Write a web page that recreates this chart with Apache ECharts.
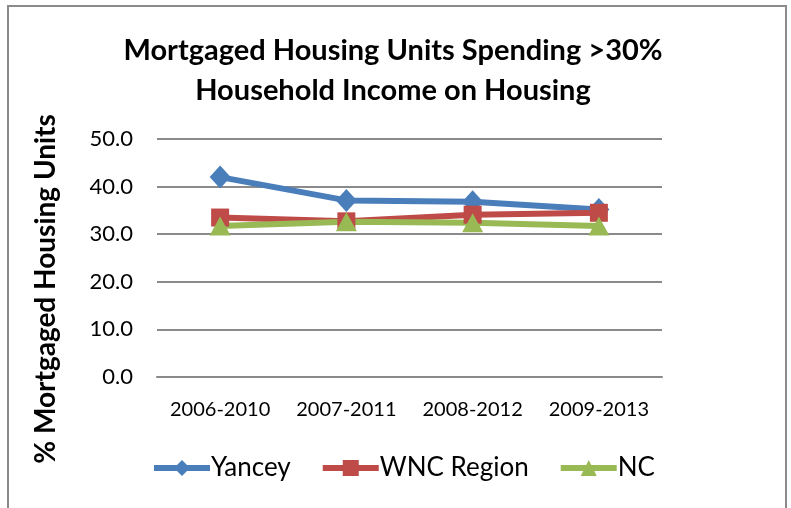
<!DOCTYPE html>
<html>
<head>
<meta charset="utf-8">
<script src="https://cdn.jsdelivr.net/npm/echarts@6/dist/echarts.min.js"></script>
<style>
html,body{margin:0;padding:0;background:#fff;}
#chart{width:791px;height:508px;}
</style>
</head>
<body>
<div id="chart"></div>
<script>
var titleText = 'Mortgaged Housing Units Spending >30%\nHousehold Income on Housing';
var yAxisName = '% Mortgaged Housing Units';
var categories = ['2006-2010', '2007-2011', '2008-2012', '2009-2013'];
var seriesNames = ['Yancey', 'WNC Region', 'NC'];
var yancey = [42.0, 37.1, 36.8, 35.2];
var wncRegion = [33.5, 32.7, 34.1, 34.5];
var nc = [31.7, 32.6, 32.4, 31.7];
var yMin = 0, yMax = 50, yStep = 10;

var FONT = 'Lato';
var chart = echarts.init(document.getElementById('chart'), null, {renderer: 'canvas'});
var colors = ['#4A7EBB', '#BE4B48', '#98B954'];
var symbols = ['diamond', 'rect', 'triangle'];
var sizes = [[21, 23], 18, [21, 19]];
var datas = [yancey, wncRegion, nc];

chart.setOption({
  animation: false,
  backgroundColor: '#ffffff',
  color: colors,
  title: {
    text: titleText,
    left: 388,
    textAlign: 'center',
    top: 26,
    textStyle: {fontFamily: FONT, fontWeight: 'bold', fontSize: 29, lineHeight: 40, color: '#000'}
  },
  graphic: [
    {type: 'rect', shape: {x: 8, y: 6, width: 778, height: 540}, style: {fill: 'none', stroke: '#8a8a8a', lineWidth: 2}, silent: true},
    {type: 'text', x: 46, y: 289, rotation: Math.PI / 2,
     style: {text: yAxisName, fontFamily: FONT, fontWeight: 'bold', fontSize: 28, fill: '#000', align: 'center', verticalAlign: 'middle'}}
  ],
  legend: {
    left: 151, top: 455, padding: 0,
    itemWidth: 56, itemHeight: 20, itemGap: 29,
    lineStyle: {width: 6},
    textStyle: {fontFamily: FONT, fontSize: 26, color: '#000', padding: [0, 0, 0, -4]},
    data: seriesNames
  },
  grid: {left: 157, right: 129, top: 139, bottom: 131, containLabel: false},
  xAxis: {
    type: 'category', data: categories, boundaryGap: true,
    axisLine: {show: true, lineStyle: {color: '#8a8a8a', width: 2}},
    axisTick: {show: false},
    axisLabel: {fontFamily: FONT, fontSize: 20, color: '#000', margin: 23, interval: 0}
  },
  yAxis: {
    type: 'value', min: yMin, max: yMax, interval: yStep,
    axisLine: {show: false}, axisTick: {show: false},
    splitLine: {lineStyle: {color: '#8a8a8a', width: 2}},
    axisLabel: {fontFamily: FONT, fontSize: 22, color: '#000', margin: 24,
      formatter: function (v) { return v.toFixed(1); }}
  },
  series: seriesNames.map(function (n, i) {
    return {
      name: n, type: 'line', data: datas[i],
      symbol: symbols[i], symbolSize: sizes[i], showSymbol: true,
      lineStyle: {width: 6, color: colors[i]},
      itemStyle: {color: colors[i]}
    };
  })
});
</script>
</body>
</html>
